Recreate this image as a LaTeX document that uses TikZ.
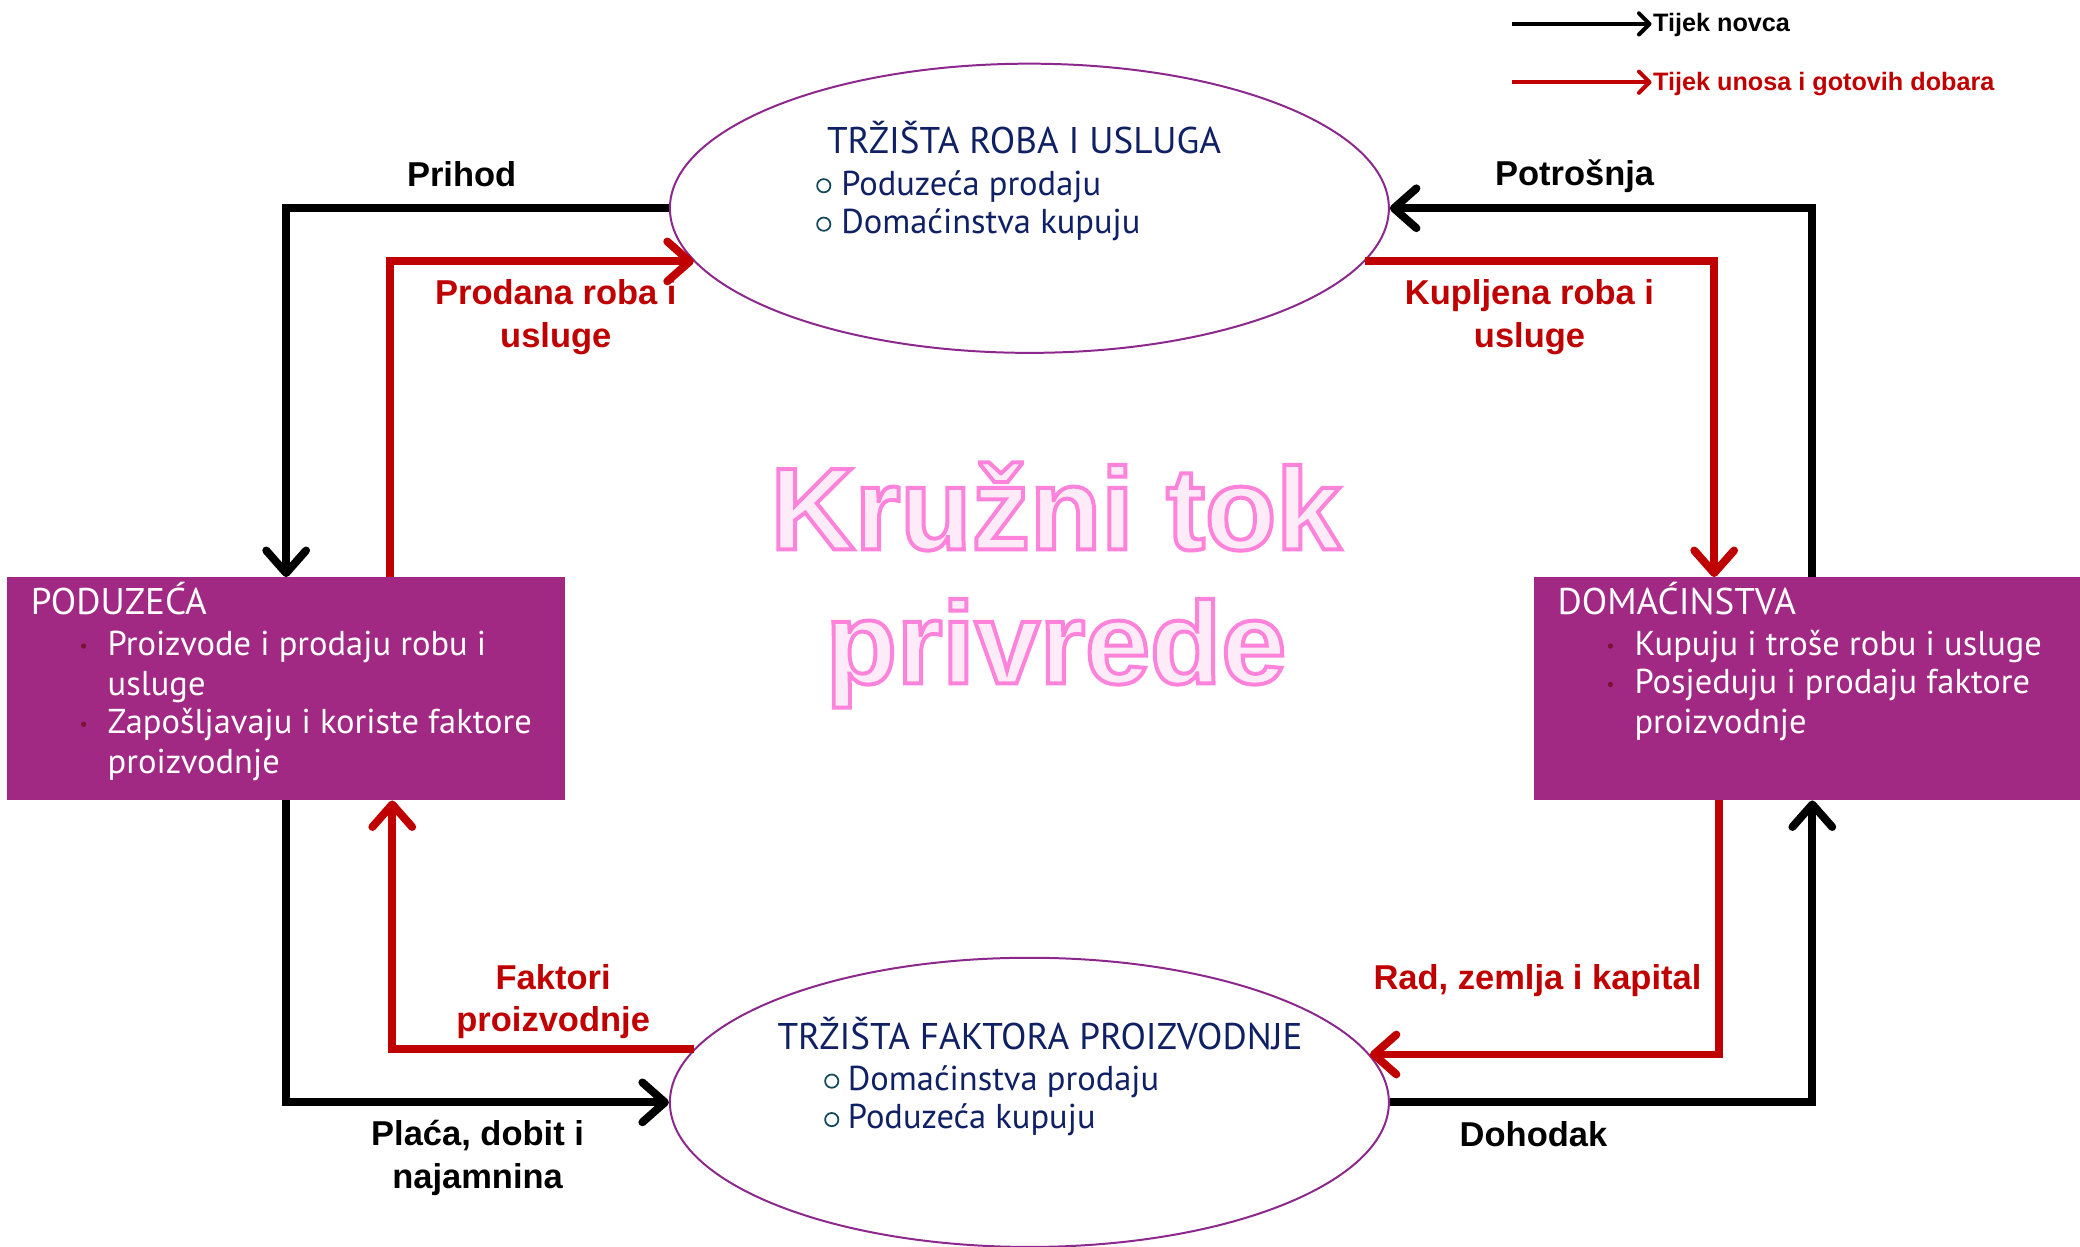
\documentclass[tikz,border=0pt]{standalone}
\usepackage{fontspec}
\setmainfont{PT Sans}
\newfontfamily\labfont{Liberation Sans}
\usetikzlibrary{shapes.geometric,arrows.meta,calc}
\definecolor{boxpurple}{RGB}{161,41,132}
\definecolor{navy}{RGB}{16,32,100}
\definecolor{darkred}{RGB}{192,0,0}
\definecolor{ellline}{RGB}{140,40,140}
\definecolor{pinkfill}{RGB}{253,236,248}
\definecolor{dotred}{RGB}{120,20,50}
\definecolor{bulteal}{RGB}{20,70,90}
\newcommand\outlinedon{\special{pdf:literal direct 1 0.51 0.86 RG 2 Tr 3 w}}
\newcommand\outlinedoff{\special{pdf:literal direct 0 Tr 0.4 w}}
\begin{document}
\begin{tikzpicture}[x=1pt,y=-1pt,
  money/.style={line width=6pt, draw=black, -{Straight Barb[length=17pt,width=30pt,round]}},
  goods/.style={money, draw=darkred},
  legmoney/.style={line width=3pt, draw=black, -{Straight Barb[length=8pt,width=16pt,round]}},
  leggoods/.style={legmoney, draw=darkred},
  lab/.style={font=\labfont\bfseries\fontsize{26}{32}\selectfont, align=center, inner sep=0pt},
  leglab/.style={font=\labfont\bfseries\fontsize{19}{23}\selectfont, inner sep=0pt, anchor=west},
  market/.style={ellipse, draw=ellline, line width=1.5pt, fill=white, minimum width=542pt, minimum height=218pt, inner sep=0pt},
  agent/.style={rectangle, fill=boxpurple, inner sep=0pt, anchor=north west},
  mtitle/.style={font=\fontsize{28}{32}\selectfont, text=navy, inner sep=0pt, anchor=base},
  mitem/.style={font=\fontsize{26}{30}\selectfont, text=navy, inner sep=0pt, anchor=base west},
  ring/.style={circle, draw=bulteal, line width=1.3pt, minimum size=10pt, inner sep=0pt},
  atitle/.style={font=\fontsize{28}{30}\selectfont, text=white, inner sep=0pt, anchor=base west},
  aitem/.style={font=\fontsize{26}{30}\selectfont, text=white, inner sep=0pt, anchor=base west},
  adot/.style={circle, fill=dotred, minimum size=4pt, inner sep=0pt},
  bigtitle/.style={font=\labfont\bfseries\fontsize{88}{101}\selectfont, align=center, inner sep=0pt}
]
\useasboundingbox[fill=white] (0,0) rectangle (1568,940);

% markets
\node[market] (tm) at (776,157) {};
\node[market] (fm) at (776,831) {};

% agents
\node[agent, minimum width=421pt, minimum height=168pt] (firm) at (5,435) {};
\node[agent, minimum width=412pt, minimum height=168pt] (hh) at (1156,435) {};

% central title, outlined
\node[bigtitle, text=pinkfill] (title) at (796,441) {\outlinedon Kružni tok\\\outlinedon privrede\outlinedoff};

% market texts
\node[mtitle] (tmt) at (772,116) {TRŽIŠTA ROBA I USLUGA};
\node[ring] (tmr1) at (621,140) {};
\node[mitem] (tmi1) at (634,147) {Poduzeća prodaju};
\node[ring] (tmr2) at (621,169) {};
\node[mitem] (tmi2) at (634,176) {Domaćinstva kupuju};

\node[mtitle] (fmt) at (784,791) {TRŽIŠTA FAKTORA PROIZVODNJE};
\node[ring] (fmr1) at (627,815) {};
\node[mitem] (fmi1) at (639,822) {Domaćinstva prodaju};
\node[ring] (fmr2) at (627,844) {};
\node[mitem] (fmi2) at (639,851) {Poduzeća kupuju};

% agent texts
\node[atitle] (firmt) at (23,463) {PODUZEĆA};
\node[adot] (fd1) at (63,487) {};
\node[aitem] (fi1) at (81,494) {Proizvode i prodaju robu i};
\node[aitem] (fi2) at (81,524) {usluge};
\node[adot] (fd2) at (63,546) {};
\node[aitem] (fi3) at (81,553) {Zapošljavaju i koriste faktore};
\node[aitem] (fi4) at (81,583) {proizvodnje};

\node[atitle] (hht) at (1174,463) {DOMAĆINSTVA};
\node[adot] (hd1) at (1214,487) {};
\node[aitem] (hi1) at (1232,494) {Kupuju i troše robu i usluge};
\node[adot] (hd2) at (1214,516) {};
\node[aitem] (hi2) at (1232,523) {Posjeduju i prodaju faktore};
\node[aitem] (hi3) at (1232,553) {proizvodnje};

% money flows
\draw[money] (tm.west) -| (firm.north);
\draw[money] ([xshift=4pt]hh.north) |- (tm.east);
\draw[money] (firm.south) |- (fm.west);
\draw[money] (fm.east) -| ([xshift=4pt]hh.south);

% goods flows
\draw[goods] ([xshift=78pt]firm.north) |- (tm.189);
\draw[goods] (tm.351) -| ([xshift=-70pt]hh.north);
\draw[goods] ([xshift=-66pt]hh.south) |- (fm.8.5);
\draw[goods] (fm.171.5) -| ([xshift=80pt]firm.south);

% labels
\node[lab] (lprihod) at (348,131) {Prihod};
\node[lab, anchor=base] (lpotr) at (1187,140) {Potrošnja};
\node[lab, text=darkred] (lprod) at (419,239) {Prodana roba i\\usluge};
\node[lab, text=darkred] (lkup) at (1153,239) {Kupljena roba i\\usluge};
\node[lab, text=darkred] (lfakt) at (417,755) {Faktori\\proizvodnje};
\node[lab, text=darkred] (lrad) at (1159,739) {Rad, zemlja i kapital};
\node[lab] (lplaca) at (360,873) {Plaća, dobit i\\najamnina};
\node[lab] (ldoh) at (1156,855) {Dohodak};

% legend
\coordinate (lm1) at (1140,18);
\coordinate (lm2) at (1245,18);
\coordinate (lg1) at (1140,62);
\coordinate (lg2) at (1245,62);
\draw[legmoney] (lm1) -- (lm2);
\draw[leggoods] (lg1) -- (lg2);
\node[leglab] (lmt) at (1246,19) {Tijek novca};
\node[leglab, text=darkred] (lgt) at (1246,63) {Tijek unosa i gotovih dobara};
\end{tikzpicture}
\end{document}
